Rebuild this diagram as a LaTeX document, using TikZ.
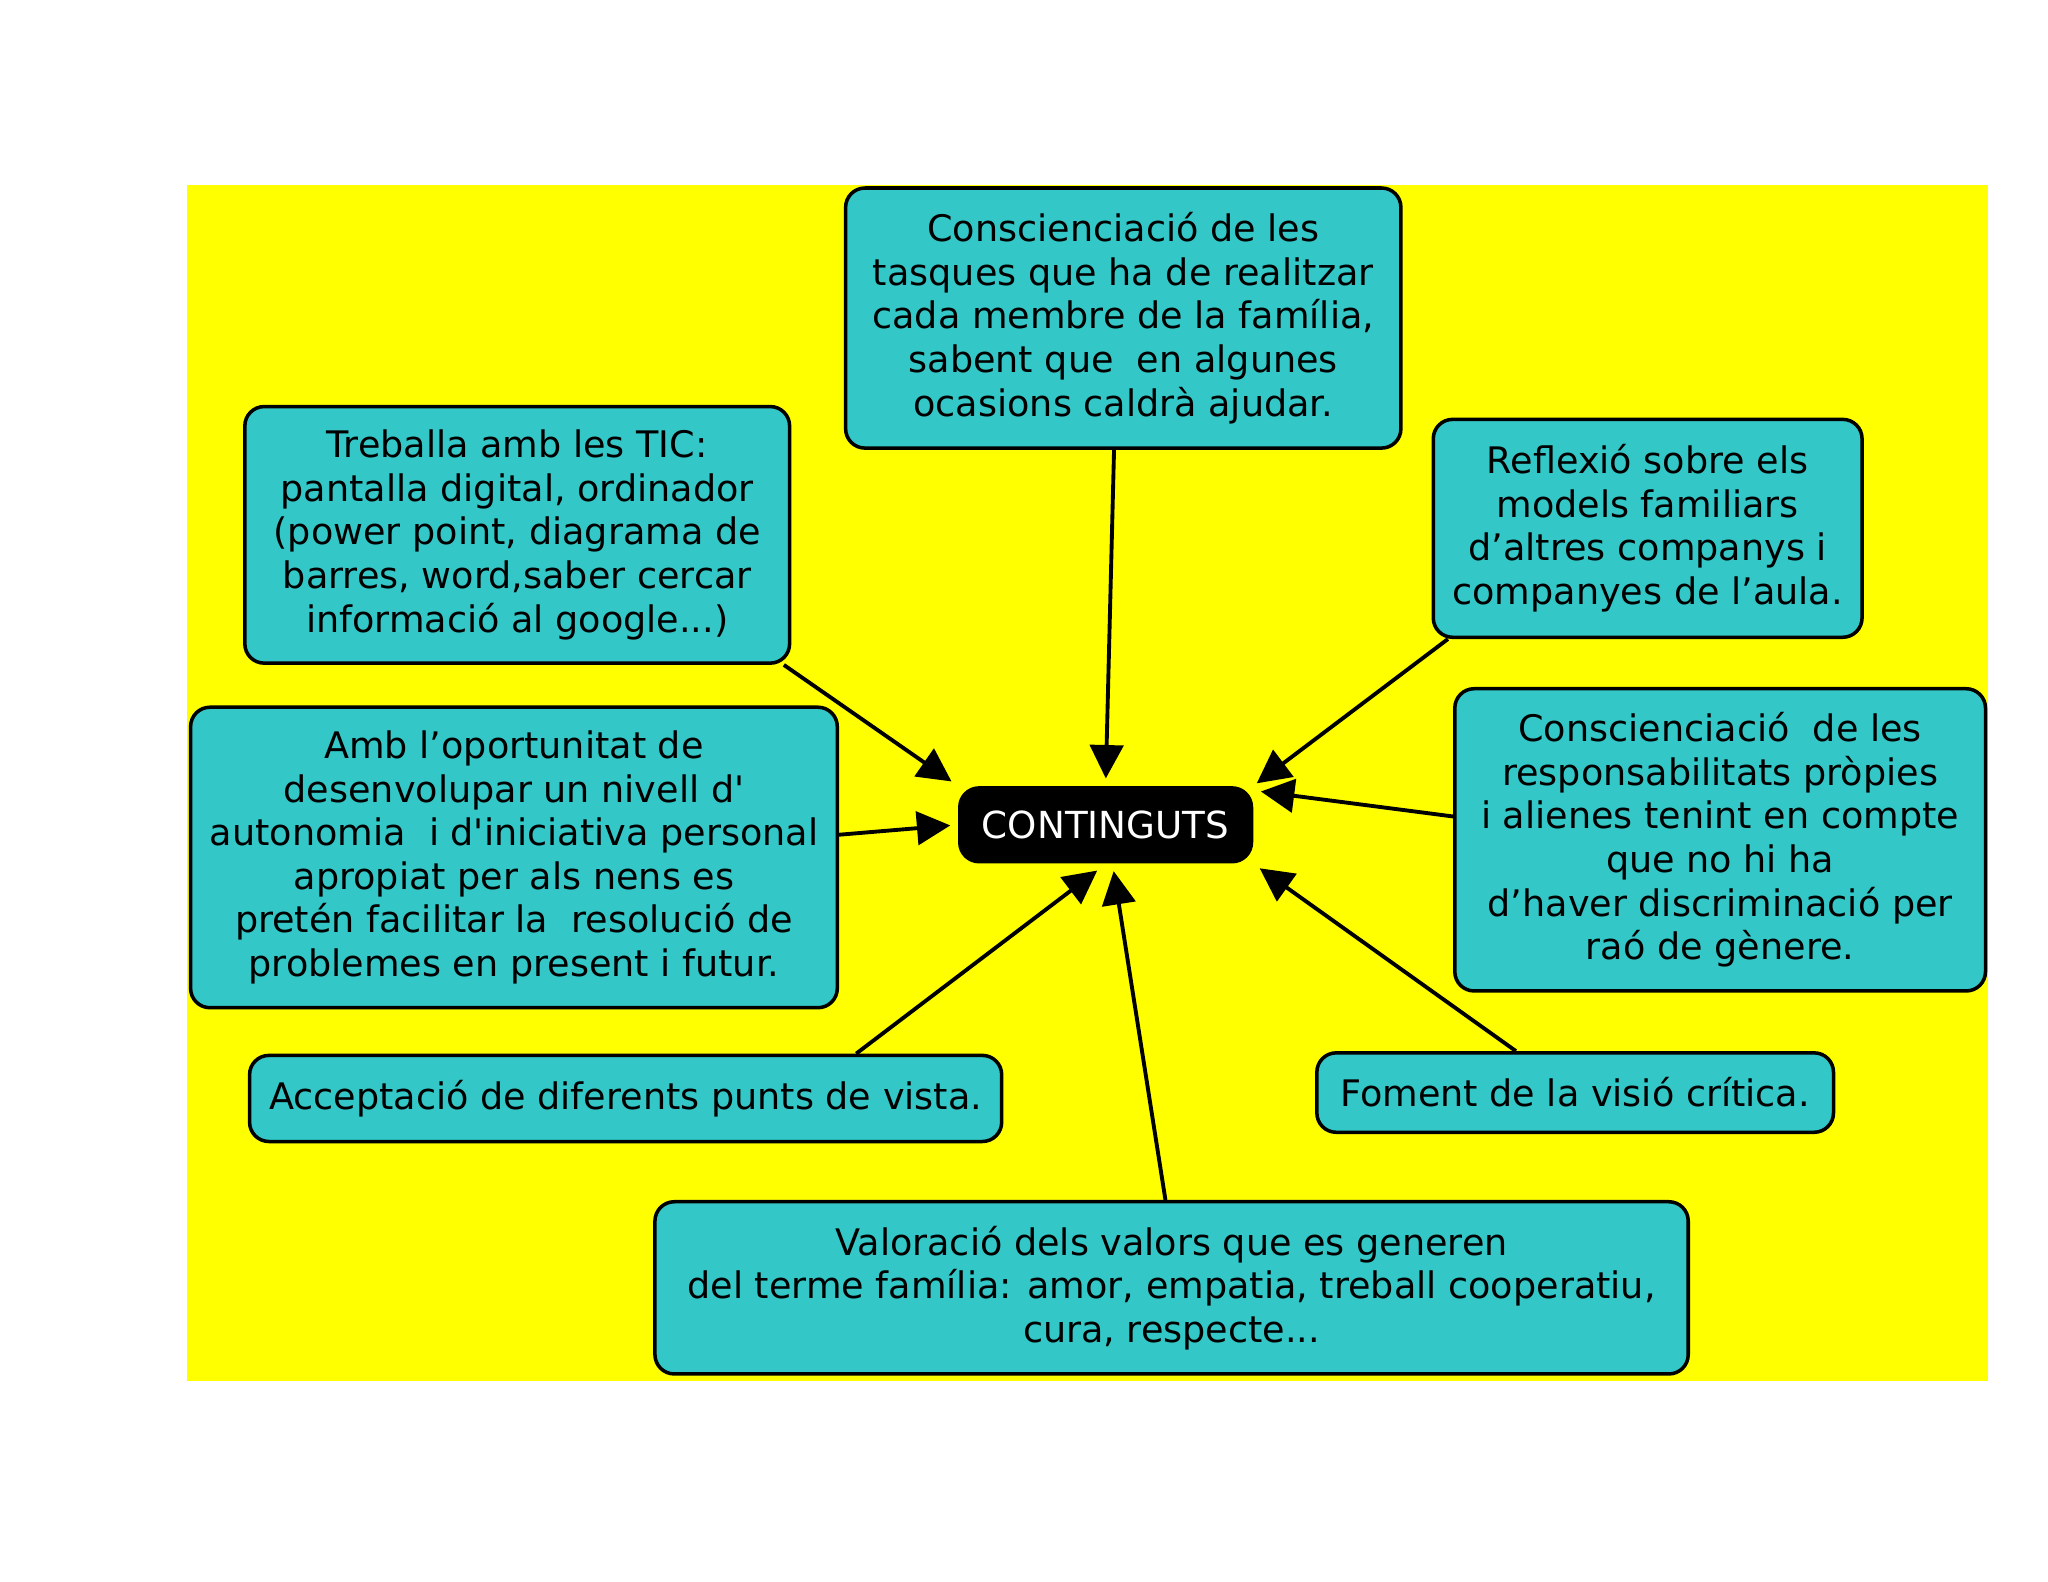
\documentclass[tikz,border=0pt]{standalone}
\usepackage{fontspec}
\setmainfont{DejaVu Sans}
\usepackage{tikz}
\usetikzlibrary{positioning, calc, arrows.meta, backgrounds}
\definecolor{mapyellow}{RGB}{255, 255, 0}
\definecolor{mapteal}{RGB}{51, 199, 199}

\begin{document}
\begin{tikzpicture}[
                x=0.013061cm, y=-0.013061cm,
                % Style per a les caixes de text
                ideabox/.style={
                    rectangle, rounded corners=5.5pt,
                    draw=black, line width=1pt,
                    fill=mapteal,
                    text=black, align=center,
                    font=\fontsize{10.4}{12.4}\selectfont,
                    inner sep=0pt
                },
                % Style per al concepte central
                centrebox/.style={
                    rectangle, rounded corners=6pt,
                    fill=black, text=white,
                    font=\fontsize{10.6}{12}\selectfont,
                    minimum width=84pt, minimum height=22pt
                },
                % Style per a les fletxes
                link/.style={
                    -{Triangle[length=9.5pt, width=9.5pt]}, line width=1.1pt,
                    shorten >=2pt
                }
            ]
                \useasboundingbox (0,0) rectangle (1568,1211);

                % 1. Les caixes (coordenades manuals)
                \node[centrebox] (cont) at (846.5,631.5) {CONTINGUTS};

                \node[ideabox, minimum width=158pt, minimum height=74pt] (tasq) at (860,243.5)
                    {Conscienciació de les\\tasques que ha de realitzar\\cada membre de la família,\\sabent que\ \ en algunes\\ocasions caldrà ajudar.};
                \node[ideabox, minimum width=155pt, minimum height=73pt] (tic) at (396,409.5)
                    {Treballa amb les TIC:\\pantalla digital, ordinador\\(power point, diagrama de\\barres, word,saber cercar\\informació al google...)};
                \node[ideabox, minimum width=122pt, minimum height=62pt] (refl) at (1261.5,404.5)
                    {Reflexió sobre els\\models familiars\\d’altres companys i\\companyes de l’aula.};
                \node[ideabox, minimum width=184pt, minimum height=85.5pt] (amb) at (393.5,656.5)
                    {Amb l’oportunitat de\\desenvolupar un nivell d\textquotesingle\\autonomia\ \ i d\textquotesingle iniciativa personal\\apropiat per als nens es\\pretén facilitar la\ \ resolució de\\problemes en present i futur.};
                \node[ideabox, minimum width=151pt, minimum height=86pt] (resp) at (1317,643)
                    {Conscienciació\ \ de les\\responsabilitats pròpies\\i alienes tenint en compte\\que no hi ha\\d’haver discriminació per\\raó de gènere.};
                \node[ideabox, minimum width=214pt, minimum height=24.5pt] (accep) at (479,841)
                    {Acceptació de diferents punts de vista.};
                \node[ideabox, minimum width=147pt, minimum height=22.6pt] (fom) at (1206,836.5)
                    {Foment de la visió crítica.};
                \node[ideabox, minimum width=294pt, minimum height=49pt] (val) at (897,986)
                    {Valoració dels valors que es generen\\del terme família: amor, empatia, treball cooperatiu,\\cura, respecte...};

                \begin{scope}[on background layer]
                    % 2. Fons groc
                    \fill[mapyellow] (143,142) rectangle (1522,1057);

                    % 3. Fletxes cap a CONTINGUTS
                    \draw[link] (tasq.266) -- (cont.north);
                    \draw[link] (tic.-26) -- (cont.north west);
                    \draw[link] (amb.4) -- (cont.west);
                    \draw[link, shorten >=3pt] (accep.11) -- (cont.south);
                    \draw[link] (val.94) -- (cont.-80);
                    \draw[link] (fom.145) -- (cont.south east);
                    \draw[link] (resp.175) -- (cont.13);
                    \draw[link, shorten >=1pt] (refl.209) -- (cont.north east);
                \end{scope}

            \end{tikzpicture}
\end{document}
